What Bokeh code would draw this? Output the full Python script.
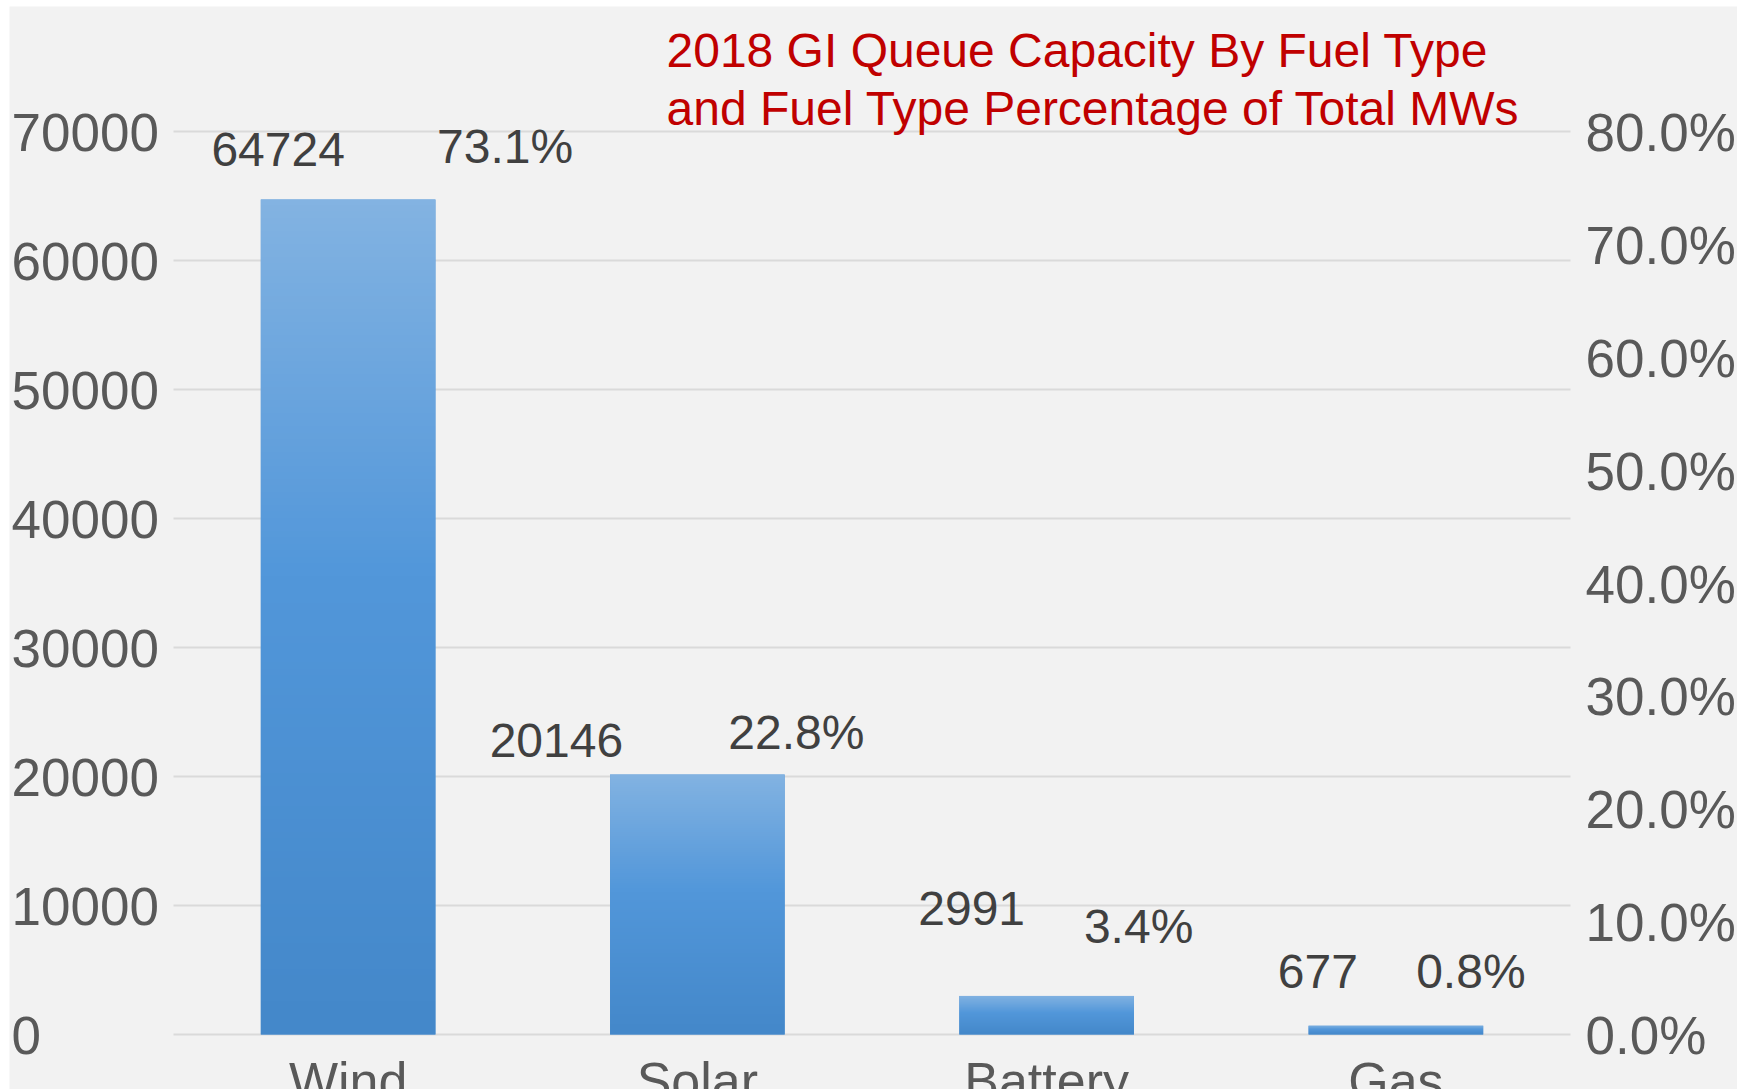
import numpy as np
from bokeh.plotting import figure
from bokeh.models import ColumnDataSource, LabelSet, Label, Range1d, Grid
from bokeh.core.properties import value
from bokeh.embed import file_html
from bokeh.resources import INLINE

# ---------------- data ----------------
categories = ["Wind", "Solar", "Battery", "Gas"]
capacity_mw = [64724, 20146, 2991, 677]
pct_of_total = [0.731, 0.228, 0.034, 0.008]
pct_labels = ["73.1%", "22.8%", "3.4%", "0.8%"]

left_ticks = [0, 10000, 20000, 30000, 40000, 50000, 60000, 70000]
left_tick_labels = ["0", "10000", "20000", "30000", "40000", "50000", "60000", "70000"]
right_ticks = [0.0, 0.1, 0.2, 0.3, 0.4, 0.5, 0.6, 0.7, 0.8]
right_tick_labels = ["0.0%", "10.0%", "20.0%", "30.0%", "40.0%", "50.0%", "60.0%", "70.0%", "80.0%"]

title_lines = ["2018 GI Queue Capacity By Fuel Type",
               "and Fuel Type Percentage of Total MWs"]

# ---------------- layout (page pixels) ----------------
FIG_L, FIG_T, FIG_R, FIG_B = 9, 6, 1737, 1089      # grey panel
PLOT_L, PLOT_T, PLOT_R, PLOT_B = 173, 131, 1570, 1034  # plotting area (0..70000)
Y_MAX, PCT_MAX = 70000, 0.8

# label nudges (screen px)
count_dx = [-70, -141, -75, -78]
count_dy = [50, 34, 87, 54]
pct_dx = [157, 99, 92, 75]
pct_dy = [63, 45, 70, 54]

FONT = "Liberation Sans"
AXIS_COLOR = "#595959"
LABEL_COLOR = "#404040"
BG = "#f2f2f2"

ncat = len(categories)
ppu = (PLOT_R - PLOT_L) / ncat
x_start = (FIG_L - PLOT_L) / ppu
x_end = ncat + (FIG_R - PLOT_R) / ppu
ph = PLOT_B - PLOT_T
y_start = -(FIG_B - PLOT_B) * Y_MAX / ph
y_end = (PLOT_B - FIG_T) * Y_MAX / ph
p_start = -(FIG_B - PLOT_B) * PCT_MAX / ph
p_end = (PLOT_B - FIG_T) * PCT_MAX / ph

xs = [i + 0.5 for i in range(ncat)]
bar_w = 0.5

src = ColumnDataSource(dict(
    x=xs, x0=[x - bar_w / 2 for x in xs], top=capacity_mw, cat=categories,
    count_text=[str(v) for v in capacity_mw], dx=count_dx, dy=count_dy,
    pct=pct_of_total, pct_text=pct_labels, pdx=pct_dx, pdy=pct_dy,
))

p = figure(width=FIG_R - FIG_L, height=FIG_B - FIG_T,
           x_range=Range1d(x_start, x_end), y_range=Range1d(y_start, y_end),
           x_axis_location=None, y_axis_location=None,
           toolbar_location=None, output_backend="svg",
           min_border=0, background_fill_color=BG, border_fill_color=BG,
           outline_line_color=None)
p.margin = (FIG_T, 0, 0, FIG_L)
p.extra_y_ranges = {"pct": Range1d(p_start, p_end)}
p.center = [r for r in p.center if not isinstance(r, Grid)]

# horizontal gridlines spanning the category band
p.segment(x0=0, x1=ncat, y0="t", y1="t", source=ColumnDataSource(dict(t=left_ticks)),
          line_color="#dadada", line_width=2)

# bars
p.vbar(x="x", top="top", bottom=0, width=bar_w, source=src,
       fill_color="#5596d6", line_color=None)

# vertical gradient overlay for each bar (light top, darker bottom)
N = 128
t = np.linspace(0, 1, N)  # 0 = bottom, 1 = top
stop_pos = [0.0, 0.55, 1.0]
stop_rgb = [(68, 136, 202), (82, 151, 218), (131, 179, 226)]
img = np.empty((N, 1), dtype=np.uint32)
view = img.view(dtype=np.uint8).reshape((N, 1, 4))
for k in range(3):
    view[:, 0, k] = np.interp(t, stop_pos, [c[k] for c in stop_rgb]).astype(np.uint8)
view[:, 0, 3] = 255
img_src = ColumnDataSource(dict(img=[img] * ncat, x0=src.data["x0"], top=capacity_mw))
p.image_rgba(image="img", x="x0", y=0, dw=bar_w, dh="top", source=img_src)

# data labels
p.add_layout(LabelSet(x="x", y="top", text="count_text", x_offset="dx", y_offset="dy",
                      source=src, text_align="center", text_baseline="middle",
                      text_font=value(FONT), text_font_size="48px", text_color=LABEL_COLOR))
p.add_layout(LabelSet(x="x", y="pct", y_range_name="pct", text="pct_text",
                      x_offset="pdx", y_offset="pdy", source=src,
                      text_align="center", text_baseline="middle",
                      text_font=value(FONT), text_font_size="48px", text_color=LABEL_COLOR))

# category labels (partly cut off at the bottom, as in the reference)
p.add_layout(LabelSet(x="x", y=0, text="cat", y_offset=-64, source=src,
                      text_align="center", text_baseline="alphabetic",
                      text_font=value(FONT), text_font_size="52px", text_color=AXIS_COLOR))

# left axis tick labels (left aligned)
lsrc = ColumnDataSource(dict(t=left_ticks, lab=left_tick_labels))
p.add_layout(LabelSet(x=11 - FIG_L, x_units="screen", y="t", text="lab", y_offset=-1,
                      source=lsrc, text_align="left", text_baseline="middle",
                      text_font=value(FONT), text_font_size="53px", text_color=AXIS_COLOR))

# right axis tick labels
rsrc = ColumnDataSource(dict(t=right_ticks, lab=right_tick_labels))
p.add_layout(LabelSet(x=1585 - FIG_L, x_units="screen", y="t", y_range_name="pct",
                      text="lab", y_offset=-1, source=rsrc, text_align="left",
                      text_baseline="middle", text_font=value(FONT),
                      text_font_size="53px", text_color=AXIS_COLOR))

# title (two lines, red)
for i, line in enumerate(title_lines):
    p.add_layout(Label(x=666 - FIG_L, y=(FIG_B - 50) - 58 * i, x_units="screen", y_units="screen",
                       text=line, text_color="#c00000", text_font=FONT,
                       text_font_size="48px", text_baseline="alphabetic", text_align="left"))

open("out.html", "w").write(file_html(p, INLINE))
